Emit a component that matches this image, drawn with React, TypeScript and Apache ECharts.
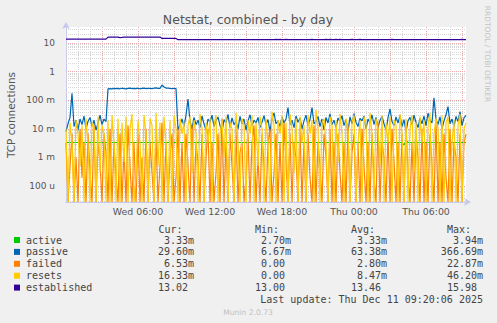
import React, { useEffect, useRef } from "react";
import * as echarts from "echarts";

// time step of the samples, minutes from Wed 00:00
const STEP_MIN = 10;

// passive connections, milli-units
const passiveMilli = [
  8, 15, 25, 175, 12, 20, 9, 22, 14, 28, 10, 18, 25, 12, 20, 9, 16, 30, 14, 22, 18,
  250, 255, 248, 260, 252, 258, 250, 262, 255, 248,
  258, 265, 252, 260, 255, 262, 250, 258, 265, 255,
  260, 258, 252, 262, 268, 260, 258, 340, 290, 265,
  262, 258, 255, 260, 256,
  9, 14, 22, 12, 30, 110, 18, 10, 25, 14,
  20, 11, 28, 15, 9, 22, 17, 30, 12, 19,
  26, 13, 8, 21, 16, 32, 11, 24, 14, 18,
  10, 27, 15, 22, 9, 19, 31, 13, 20, 16,
  25, 11, 17, 29, 14, 21, 8, 23, 36, 15,
  19, 12, 26, 16, 22, 55, 14, 20, 11, 28,
  17, 24, 10, 19, 30, 13, 21, 55, 15, 18,
  27, 12, 22, 9, 25, 16, 33, 14, 20, 11,
  24, 18, 29, 13, 21, 8, 26, 15, 34, 17,
  12, 23, 19, 28, 10, 22, 16, 31, 14, 25,
  11, 20, 27, 15, 9, 24, 50, 18, 13, 26,
  16, 29, 12, 21, 8, 19, 25, 14, 30, 17,
  11, 23, 15, 28, 13, 35, 20, 16, 120, 22,
  14, 26, 10, 19, 31, 60, 15, 22, 12, 27,
  18, 40, 13, 24, 29.6,
];

// failed connections, milli-units
const failedMilli = [
  3.3, 0, 0.5, 6.7, 0, 1, 0, 10, 0.2, 3.3,
  0, 6.7, 0.3, 0, 13.3, 0, 3.3, 0.7, 0, 6.7,
  1.5, 0, 10, 0, 3.3, 0.2, 0, 6.7, 0, 2,
  0, 13.3, 0.5, 0, 3.3, 0, 6.7, 0, 1, 0,
  10, 0, 3.3, 0.3, 0, 6.7, 0, 0.5, 16.7, 0,
  3.3, 0, 1, 6.7, 0, 0.2, 10, 0, 3.3, 0,
  6.7, 0.5, 0, 13.3, 0, 3.3, 0.7, 0, 6.7, 0,
  1, 10, 0, 3.3, 0, 0.3, 6.7, 0, 22.87, 0,
  3.3, 0, 6.7, 0.5, 0, 10, 0, 1.5, 3.3, 0,
  0.2, 6.7, 0, 3.3, 13.3, 0, 1, 0, 6.7, 0.5,
  0, 3.3, 10, 0, 0.3, 6.7, 0, 3.3, 0, 16.7,
  0.7, 0, 6.7, 0, 3.3, 1, 0, 10, 0, 3.3,
  0, 6.7, 0.2, 0, 13.3, 0, 3.3, 0.5, 0, 6.7,
  1, 0, 10, 0, 3.3, 0, 6.7, 0.3, 0, 3.3,
  0, 13.3, 0, 1.5, 6.7, 0, 3.3, 0, 10, 0.5,
  0, 3.3, 0, 6.7, 0.2, 0, 16.7, 0, 3.3, 1,
  0, 6.7, 0, 10, 0.7, 0, 3.3, 0, 6.7, 0,
  13.3, 0.3, 0, 3.3, 0, 6.7, 1, 0, 10, 0,
  3.3, 0, 6.7, 0.5, 0, 16.7, 0, 3.3, 0, 6.7,
  0.2, 0, 10, 0, 3.3, 1, 0, 6.7, 0, 3.3,
  6.53,
];

// resets, milli-units
const resetsMilli = [
  10, 0, 16.7, 3.3, 0, 20, 6.7, 0.5, 13.3, 0,
  23, 3.3, 0, 16.7, 10, 0, 26.7, 0.3, 13.3, 6.7,
  0, 20, 0, 30, 3.3, 0, 23, 0, 16.7, 0.7,
  26.7, 0, 10, 33, 0, 0.2, 20, 3.3, 0, 30,
  6.7, 0, 23, 13.3, 0, 36, 0.5, 16.7, 0, 26.7,
  3.3, 0, 20, 0, 30, 10, 0, 23, 6.7, 16.7,
  0, 13.3, 26.7, 0.3, 20, 6.7, 0, 33, 10, 0,
  16.7, 3.3, 23, 0, 13.3, 30, 0, 6.7, 20, 1,
  26.7, 0, 16.7, 10, 0, 36, 3.3, 0, 23, 13.3,
  0, 20, 6.7, 30, 0, 16.7, 0.5, 26.7, 10, 0,
  23, 3.3, 0, 40, 13.3, 0, 20, 6.7, 30, 0,
  16.7, 0, 33, 10, 0.3, 23, 0, 26.7, 3.3, 13.3,
  0, 30, 6.7, 20, 0, 46.2, 10, 0, 16.7, 23,
  3.3, 0, 26.7, 13.3, 0, 20, 0.7, 33, 6.7, 0,
  23, 10, 0, 16.7, 30, 0, 3.3, 20, 0, 26.7,
  13.3, 0, 36, 6.7, 0, 23, 10, 0.5, 30, 0,
  16.7, 3.3, 26.7, 0, 20, 13.3, 0, 33, 6.7, 0,
  23, 0, 10, 30, 0.3, 16.7, 0, 26.7, 3.3, 20,
  0, 13.3, 36, 0, 6.7, 23, 10, 0, 30, 0,
  16.7, 26.7, 0, 3.3, 20, 0, 13.3, 33, 0, 10,
  16.33,
];

// active connections, milli-units
const activeMilli = [
  3.33, 3.33, 3.33, 3.33, 3.33, 3.33, 3.33, 3.33, 3.33, 3.33,
  3.33, 3.33, 3.33, 3.33, 3.33, 3.33, 3.33, 3.33, 3.33, 3.33,
  3.33, 3.33, 3.33, 3.33, 3.33, 3.33, 3.33, 3.33, 3.33, 3.33,
  3.33, 3.33, 3.33, 3.33, 3.33, 3.33, 3.33, 3.33, 3.33, 3.33,
  3.33, 3.33, 3.33, 3.33, 3.33, 3.33, 3.33, 3.33, 3.33, 3.33,
  3.33, 3.33, 3.33, 3.33, 3.33, 3.33, 3.33, 3.33, 3.33, 3.33,
  3.33, 3.33, 3.33, 3.33, 3.33, 3.33, 3.33, 3.33, 3.33, 3.33,
  3.33, 3.33, 3.33, 3.33, 3.33, 3.33, 3.33, 3.33, 3.33, 3.33,
  3.33, 3.33, 3.33, 3.33, 3.33, 3.33, 3.33, 3.33, 3.33, 3.33,
  3.33, 3.33, 3.33, 3.33, 3.33, 3.33, 3.33, 3.33, 3.33, 3.33,
  3.33, 3.33, 3.33, 3.33, 3.33, 3.33, 3.33, 3.33, 3.33, 3.33,
  3.33, 3.33, 3.33, 3.33, 3.33, 3.33, 3.33, 3.33, 3.33, 3.33,
  3.33, 3.33, 3.33, 3.33, 3.33, 3.33, 3.33, 3.33, 3.33, 3.33,
  3.33, 3.33, 3.33, 3.33, 3.33, 3.33, 3.33, 3.33, 3.33, 3.33,
  3.33, 3.33, 3.33, 3.33, 3.33, 3.33, 3.33, 3.33, 3.33, 3.33,
  3.33, 3.33, 3.33, 3.33, 3.33, 3.33, 3.33, 3.33, 3.33, 3.33,
  3.33, 3.33, 3.33, 3.33, 3.33, 3.33, 3.33, 3.33, 3.33, 2.7,
  3.94, 3.33, 3.33, 3.33, 3.33, 3.33, 3.33, 3.33, 3.33, 3.33,
  3.33, 3.33, 3.33, 3.33, 3.33, 3.33, 3.33, 3.33, 3.33, 3.33,
  3.33, 3.33, 3.33, 3.33, 3.33, 3.33, 3.33, 3.33, 3.33, 3.33,
  3.33,
];

// established connections
const established = [
  13.5, 13.5, 13.5, 13.5, 13.5, 13.5, 13.5, 13.5, 13.5, 13.5,
  13.5, 13.5, 13.5, 13.5, 13.5, 13.5, 13.5, 13.5, 13.5, 13.5,
  13.5, 15.98, 15.98, 15.98, 15.98, 15.98, 15.98, 15.4, 15.6, 15.98,
  15.98, 15.98, 15.98, 15.98, 15.98, 15.98, 15.98, 15.98, 15.98, 15.98,
  15.98, 15.98, 15.98, 15.98, 15.98, 15.98, 15.98, 15.98, 14.4, 14.4,
  14.4, 14.4, 14.4, 14.4, 14.4, 14.4, 13.0, 13.0, 13.0, 13.0,
  13.0, 13.0, 13.0, 13.0, 13.0, 13.0, 13.0, 13.0, 13.0, 13.0,
  13.0, 13.0, 13.0, 13.0, 13.0, 13.0, 13.0, 13.0, 13.0, 13.0,
  13.0, 13.0, 13.0, 13.0, 13.0, 13.0, 13.0, 13.0, 13.0, 13.0,
  13.0, 13.0, 13.0, 13.0, 13.0, 13.0, 13.0, 13.0, 13.0, 13.0,
  13.0, 13.0, 13.0, 13.0, 13.0, 13.3, 13.0, 13.3, 13.0, 13.0,
  13.3, 13.0, 13.0, 13.0, 13.0, 13.0, 13.0, 13.0, 13.0, 13.0,
  13.0, 13.0, 13.0, 13.3, 13.0, 13.0, 13.0, 13.0, 13.0, 13.0,
  13.3, 13.0, 13.3, 13.0, 13.0, 13.3, 13.0, 13.3, 13.0, 13.0,
  13.0, 13.0, 13.0, 13.3, 13.0, 13.0, 13.0, 13.3, 13.0, 13.0,
  13.0, 13.0, 13.0, 13.0, 13.0, 13.0, 13.0, 13.0, 13.0, 13.0,
  13.0, 13.0, 13.0, 13.3, 13.0, 13.0, 13.0, 13.0, 13.0, 13.0,
  13.0, 13.0, 13.0, 13.0, 13.0, 13.0, 13.0, 13.0, 13.0, 13.0,
  13.0, 13.0, 13.0, 13.0, 13.0, 13.0, 13.0, 13.0, 13.0, 13.0,
  13.0, 13.0, 13.0, 13.0, 13.0, 13.0, 13.0, 13.0, 13.3, 13.0,
  13.02,
];

const xTickMinutes = [360, 720, 1080, 1440, 1800];
const xTickLabels = ["Wed 06:00", "Wed 12:00", "Wed 18:00", "Thu 00:00", "Thu 06:00"];
const yTickExponents = [-4, -3, -2, -1, 0, 1];
const yTickLabels = ["100 u", "1 m", "10 m", "100 m", "1", "10"];

const legendNames = ["active", "passive", "failed", "resets", "established"];
const legendColors = ["#00cc00", "#0066b3", "#ff8000", "#ffcc00", "#330099"];
const legendCur = ["3.33m", "29.60m", "6.53m", "16.33m", "13.02"];
const legendMin = ["2.70m", "6.67m", "0.00", "0.00", "13.00"];
const legendAvg = ["3.33m", "63.38m", "2.80m", "8.47m", "13.46"];
const legendMax = ["3.94m", "366.69m", "22.87m", "46.20m", "15.98"];
const legendHeaders = ["Cur:", "Min:", "Avg:", "Max:"];

const TITLE = "Netstat, combined - by day";
const Y_NAME = "TCP connections";
const LAST_UPDATE = "Last update: Thu Dec 11 09:20:06 2025";
const FOOTER = "Munin 2.0.73";
const WATERMARK = "RRDTOOL / TOBI OETIKER";

const X_MAX = 2000;
const Y_MIN = 2.78e-5;
const Y_MAX = 36;

const toPoints = (arr: number[], scale: number) =>
  arr.map((v, i) => [i * STEP_MIN, v <= 0 ? Y_MIN : v * scale]);

const minorGrid: number[][] = [];
for (let k = -5; k <= 1; k++) {
  for (let m = 2; m <= 9; m++) {
    const v = m * Math.pow(10, k);
    if (v > Y_MIN && v < Y_MAX) minorGrid.push([0, v]);
  }
}

const AXIS_FONT = "DejaVu Sans";
const MONO = "DejaVu Sans Mono";
const GREY_GRID = "#d6d6d6";
const RED_GRID = "#f0a8a8";
const AXIS_COLOR = "#c8c8ee";

function buildGraphic() {
  const els: any[] = [];
  els.push({
    type: "text", x: 248, y: 19,
    style: { text: TITLE, fill: "#555", fontFamily: AXIS_FONT, fontSize: 12.5, align: "center", verticalAlign: "middle", textAlign: "center", textVerticalAlign: "middle" },
  });
  els.push({
    type: "text", x: 11, y: 115, rotation: Math.PI / 2,
    style: { text: Y_NAME, fill: "#555", fontFamily: AXIS_FONT, fontSize: 10.5, align: "center", verticalAlign: "middle", textAlign: "center", textVerticalAlign: "middle" },
  });
  els.push({
    type: "text", x: 487.5, y: 54, rotation: -Math.PI / 2,
    style: { text: WATERMARK, fill: "#c4c4c4", fontFamily: AXIS_FONT, fontSize: 7.5, align: "center", verticalAlign: "middle", textAlign: "center", textVerticalAlign: "middle" },
  });
  const headerX = [158.5, 255, 351, 447];
  legendHeaders.forEach((h, i) => {
    els.push({
      type: "text", x: headerX[i], y: 229,
      style: { text: h, fill: "#444", fontFamily: MONO, fontSize: 10, align: "left", verticalAlign: "middle", textAlign: "left", textVerticalAlign: "middle" },
    });
  });
  const colRight = [194, 291, 387, 483];
  const cols = [legendCur, legendMin, legendAvg, legendMax];
  legendNames.forEach((name, r) => {
    const y = 240 + r * 11.9;
    els.push({ type: "rect", shape: { x: 14, y: y - 3, width: 6, height: 6 }, style: { fill: legendColors[r] } });
    els.push({
      type: "text", x: 26, y,
      style: { text: name, fill: "#444", fontFamily: MONO, fontSize: 10, align: "left", verticalAlign: "middle", textAlign: "left", textVerticalAlign: "middle" },
    });
    cols.forEach((col, c) => {
      const s = col[r];
      const hasSuffix = /[a-zA-Z]$/.test(s);
      els.push({
        type: "text", x: colRight[c] - (hasSuffix ? 0 : 6), y,
        style: { text: s, fill: "#444", fontFamily: MONO, fontSize: 10, align: "right", verticalAlign: "middle", textAlign: "right", textVerticalAlign: "middle" },
      });
    });
  });
  els.push({
    type: "text", x: 483, y: 299.5,
    style: { text: LAST_UPDATE, fill: "#444", fontFamily: MONO, fontSize: 10, align: "right", verticalAlign: "middle", textAlign: "right", textVerticalAlign: "middle" },
  });
  els.push({
    type: "text", x: 248, y: 312,
    style: { text: FOOTER, fill: "#c0c0c0", fontFamily: AXIS_FONT, fontSize: 7.6, align: "center", verticalAlign: "middle", textAlign: "center", textVerticalAlign: "middle" },
  });
  return els;
}

export default function App() {
  const ref = useRef<HTMLDivElement>(null);
  useEffect(() => {
    const chart = echarts.init(ref.current!, null, { renderer: "svg" });
    const lineSeries = (name: string, data: number[][], color: string) => ({
      name, type: "line", data, showSymbol: false, symbol: "none", z: 3,
      lineStyle: { color, width: 1.2 }, itemStyle: { color }, clip: true, silent: true,
    });
    chart.setOption({
      animation: false,
      backgroundColor: "#f0f0f0",
      grid: {
        left: 66, top: 27, width: 400, height: 175,
        show: true, backgroundColor: "#ffffff", borderWidth: 0,
        outerBoundsMode: "none", containLabel: false,
      },
      xAxis: [
        {
          type: "value", min: 0, max: X_MAX, interval: 60,
          axisLine: { show: true, lineStyle: { color: AXIS_COLOR, width: 1 }, symbol: ["none", "arrow"], symbolSize: [6, 7], symbolOffset: [0, 5] },
          axisTick: { show: false },
          axisLabel: {
            show: true, color: "#555", fontFamily: AXIS_FONT, fontSize: 9.4, margin: 5,
            formatter: (v: number) => { const i = xTickMinutes.indexOf(Math.round(v)); return i >= 0 ? xTickLabels[i] : ""; },
          },
          splitLine: { show: true, showMinLine: false, showMaxLine: false, lineStyle: { color: GREY_GRID, type: [1, 1], width: 1 } },
        },
        {
          type: "value", min: 0, max: X_MAX, interval: 180, position: "bottom",
          axisLine: { show: false }, axisTick: { show: false }, axisLabel: { show: false },
          splitLine: { show: true, showMinLine: false, showMaxLine: false, lineStyle: { color: RED_GRID, type: [1, 1], width: 1 } },
        },
      ],
      yAxis: {
        type: "log", logBase: 10, min: Y_MIN, max: Y_MAX,
        axisLine: { show: true, lineStyle: { color: AXIS_COLOR, width: 1 }, symbol: ["none", "arrow"], symbolSize: [6, 7], symbolOffset: [0, 5] },
        axisTick: { show: false },
        axisLabel: {
          show: true, color: "#555", fontFamily: AXIS_FONT, fontSize: 9, margin: 11,
          showMinLabel: false, showMaxLabel: false,
          formatter: (v: number) => {
            const e = Math.log10(v); const r = Math.round(e);
            if (Math.abs(e - r) > 1e-6) return "";
            const i = yTickExponents.indexOf(r); return i >= 0 ? yTickLabels[i] : "";
          },
        },
        splitLine: { show: true, showMinLine: false, showMaxLine: false, lineStyle: { color: RED_GRID, type: [1, 1], width: 1 } },
      },
      series: [
        {
          type: "custom", z: 1, silent: true, clip: true, data: minorGrid,
          renderItem: (params: any, api: any) => {
            const y = Math.round(api.coord([0, api.value(1)])[1]) + 0.5;
            const cs = params.coordSys;
            return { type: "line", shape: { x1: cs.x, y1: y, x2: cs.x + cs.width, y2: y }, style: { stroke: GREY_GRID, lineWidth: 1, lineDash: [1, 1] } };
          },
        },
        lineSeries("active", toPoints(activeMilli, 0.001), legendColors[0]),
        lineSeries("passive", toPoints(passiveMilli, 0.001), legendColors[1]),
        lineSeries("failed", toPoints(failedMilli, 0.001), legendColors[2]),
        lineSeries("resets", toPoints(resetsMilli, 0.001), legendColors[3]),
        lineSeries("established", toPoints(established, 1), legendColors[4]),
      ],
      graphic: buildGraphic(),
    });
    return () => chart.dispose();
  }, []);
  return <div ref={ref} style={{ position: "fixed", left: 0, top: 0, width: 497, height: 323 }} />;
}
